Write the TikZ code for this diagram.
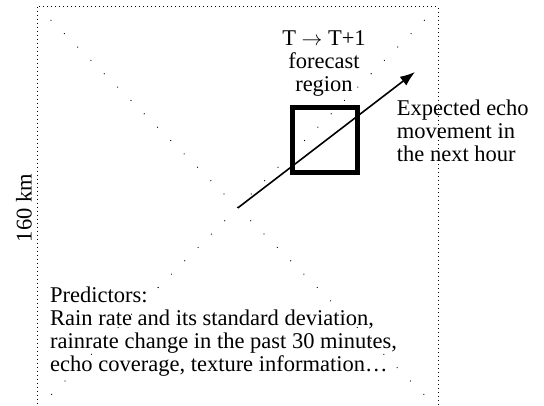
\documentclass[tikz,border=0pt]{standalone}
\usepackage{fontspec}
\setmainfont{Liberation Serif}
\usetikzlibrary{arrows.meta}

\begin{document}
\begin{tikzpicture}[x=1pt,y=-1pt,>={Latex[length=15pt,width=11pt]}]
	\tikzset{textlabel/.style={font=\fontsize{22.5}{23}\selectfont, inner sep=0pt}}
	\useasboundingbox (0,0) rectangle (544,406);
	\begin{scope}
		\clip (0,0) rectangle (544,406);
		\draw[line width=1pt, dash pattern=on 1pt off 3pt] (37.3,6.7) rectangle (438,409.3);
		\draw[line width=0.9pt, dash pattern=on 0.9pt off 17.96pt] (50.7,20) -- (424.7,395.3);
		\draw[line width=0.9pt, dash pattern=on 0.9pt off 17.96pt] (424.7,20) -- (50.7,395.3);
	\end{scope}
	\coordinate (center) at (237.7,208);
	\coordinate (tip) at (415,72);
	\node[draw, line width=5pt, minimum size=65pt, inner sep=0pt] (region) at (325,140) {};
	\path [->, line width=1.6pt] (center) edge (tip);
	\node[textlabel, anchor=north] (regionlabel) at (324,29.6) {\begin{tabular}{@{}c@{}} T $\rightarrow$ T+1 \\ forecast \\ region \end{tabular}};
	\node[textlabel, anchor=north west] (movement) at (396.7,98.9) {\begin{tabular}{@{}l@{}} Expected echo \\ movement in \\ the next hour \end{tabular}};
	\node[textlabel, rotate=90, anchor=base] (size) at (31.5,208) {160 km};
	\node[textlabel, anchor=north west] (predictors) at (50,286.4) {\begin{tabular}{@{}l@{}} Predictors: \\ Rain rate and its standard deviation, \\ rainrate change in the past 30 minutes, \\ echo coverage, texture information… \end{tabular}};
\end{tikzpicture}
\end{document}
